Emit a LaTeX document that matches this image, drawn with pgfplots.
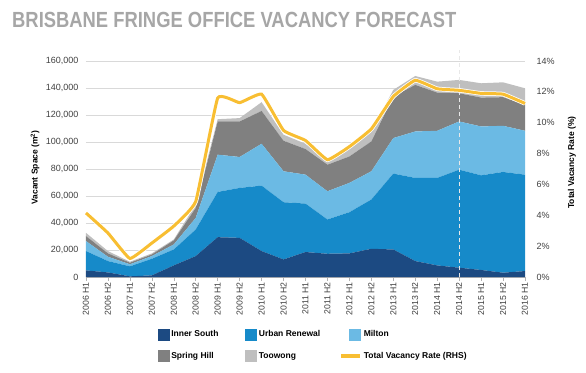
\documentclass[border=0pt]{standalone}
\usepackage{pgfplots}
\pgfplotsset{compat=1.18}
\usepackage{pgfplotstable}
\usepackage{fontspec}
\setmainfont{Liberation Sans}
\definecolor{isc}{RGB}{28,74,130}
\definecolor{urc}{RGB}{22,138,201}
\definecolor{mic}{RGB}{107,186,228}
\definecolor{shc}{RGB}{128,128,128}
\definecolor{toc}{RGB}{191,191,191}
\definecolor{ratec}{RGB}{248,190,50}
\definecolor{titlec}{RGB}{166,166,166}
\definecolor{tickc}{RGB}{64,64,64}

\pgfplotstableread{
x IS UR MI SH TO RATE
0 4900 14300 7400 3700 2400 4.15
1 3400 8400 3200 2500 1700 2.85
2 500 7400 1500 1200 700 1.2
3 1200 12300 2000 1200 800 2.2
4 8600 11800 3700 3000 700 3.3
5 15500 19700 8600 7400 2500 4.9
6 29500 33500 27600 24600 1700 11.6
7 29000 37000 22900 26300 2500 11.3
8 19200 48500 31000 24300 6500 11.85
9 13000 42400 22900 22600 4500 9.5
10 18500 35900 21400 19000 3900 8.85
11 17200 25400 20900 19700 2500 7.6
12 17500 30500 21700 19600 6700 8.45
13 20900 36500 20900 22100 7400 9.6
14 20400 56200 26300 30800 4900 11.7
15 11800 61600 34400 34500 6600 12.75
16 8600 64800 34900 28300 8100 12.2
17 6900 72600 35700 20900 9900 12.1
18 5200 70100 36200 21400 10600 11.9
19 3200 74600 34200 21200 11000 11.85
20 4400 71400 32500 19200 12300 11.25
}\data

\begin{document}
\begin{tikzpicture}
\useasboundingbox (-86pt,-95pt) rectangle (500pt,277pt);
\node[anchor=base west, inner sep=0, text=titlec] at (-74pt,249pt)
  {\scalebox{0.84}[1]{\fontsize{21.9}{24}\selectfont\bfseries BRISBANE FRINGE OFFICE VACANCY FORECAST}};
\begin{axis}[
  scale only axis, width=439pt, height=216pt,
  xmin=0, xmax=20, ymin=0, ymax=160000,
  stack plots=y,
  axis lines*=left,
  y axis line style={draw=none},
  x axis line style={draw=gray!60, line width=0.6pt},
  ytick={0,20000,...,160000},
  scaled y ticks=false,
  /pgf/number format/1000 sep={,},
  /pgf/number format/fixed,
  ytick style={draw=none},
  xtick={0,...,20},
  xticklabels={2006 H1,2006 H2,2007 H1,2007 H2,2008 H1,2008 H2,2009 H1,2009 H2,2010 H1,2010 H2,2011 H1,2011 H2,2012 H1,2012 H2,2013 H1,2013 H2,2014 H1,2014 H2,2015 H1,2015 H2,2016 H1},
  xtick style={draw=gray!60, line width=0.6pt},
  tick align=outside, major tick length=4pt,
  xticklabel style={rotate=90, anchor=east, inner sep=1pt, font=\fontsize{8.7}{9}\selectfont, text=tickc},
  yticklabel style={font=\fontsize{9}{10}\selectfont, text=tickc},
  /pgf/number format/assume math mode=true,
  ymajorgrids, grid style={gray!30, line width=0.6pt},
  ylabel={Vacant Space (m\textsuperscript{2})},
  ylabel style={at={(axis description cs:-0.116,0.507)}, anchor=center, font=\fontsize{8.5}{10}\selectfont\bfseries},
  legend columns=3,
  legend cell align=left,
  legend style={draw=none, fill=none, at={(axis description cs:0.145,-0.238)}, anchor=north west,
    font=\fontsize{8.5}{10}\selectfont\bfseries, inner sep=0pt,
    /tikz/every even column/.append style={column sep=17pt}, row sep=10pt},
]
\addplot[fill=isc, draw=none, forget plot] table[x=x,y=IS]{\data} \closedcycle;
\addplot[fill=urc, draw=none, forget plot] table[x=x,y=UR]{\data} \closedcycle;
\addplot[fill=mic, draw=none, forget plot] table[x=x,y=MI]{\data} \closedcycle;
\addplot[fill=shc, draw=none, forget plot] table[x=x,y=SH]{\data} \closedcycle;
\addplot[fill=toc, draw=none, forget plot] table[x=x,y=TO]{\data} \closedcycle;
\addlegendimage{legend image code/.code={\path (0pt,0pt); \fill[isc] (8pt,-5.5pt) rectangle (19pt,5.5pt);}}
\addlegendentry{Inner South}
\addlegendimage{legend image code/.code={\path (0pt,0pt); \fill[urc] (8pt,-5.5pt) rectangle (19pt,5.5pt);}}
\addlegendentry{Urban Renewal}
\addlegendimage{legend image code/.code={\path (0pt,0pt); \fill[mic] (8pt,-5.5pt) rectangle (19pt,5.5pt);}}
\addlegendentry{Milton}
\addlegendimage{legend image code/.code={\path (0pt,0pt); \fill[shc] (8pt,-5.5pt) rectangle (19pt,5.5pt);}}
\addlegendentry{Spring Hill}
\addlegendimage{legend image code/.code={\path (0pt,0pt); \fill[toc] (8pt,-5.5pt) rectangle (19pt,5.5pt);}}
\addlegendentry{Toowong}
\addlegendimage{legend image code/.code={\draw[ratec, line width=3.5pt] (0pt,0pt) -- (19pt,0pt);}}
\addlegendentry{Total Vacancy Rate (RHS)}
\end{axis}
\begin{axis}[
  scale only axis, width=439pt, height=216pt,
  xmin=0, xmax=20, ymin=0, ymax=14,
  axis y line*=right, axis x line=none,
  xtick=\empty,
  y axis line style={draw=none},
  ytick={0,2,...,14},
  ytick style={draw=none},
  yticklabel={\pgfmathprintnumber{\tick}\%},
  yticklabel style={font=\fontsize{9}{10}\selectfont, text=tickc, xshift=8pt},
  /pgf/number format/assume math mode=true,
  ylabel={Total Vacancy Rate (\%)},
  ylabel style={at={(axis description cs:1.107,0.53)}, anchor=center, rotate=0, font=\fontsize{8.5}{10}\selectfont\bfseries},
  clip=false,
]
\addplot[white!82!gray, dashed, line width=0.8pt, dash pattern=on 4pt off 3pt] coordinates {(17,0) (17,14.7)};
\addplot[white, line width=4.5pt, smooth, tension=0.2] table[x=x,y=RATE]{\data};
\addplot[ratec, line width=3pt, smooth, tension=0.2] table[x=x,y=RATE]{\data};
\end{axis}
\end{tikzpicture}
\end{document}
